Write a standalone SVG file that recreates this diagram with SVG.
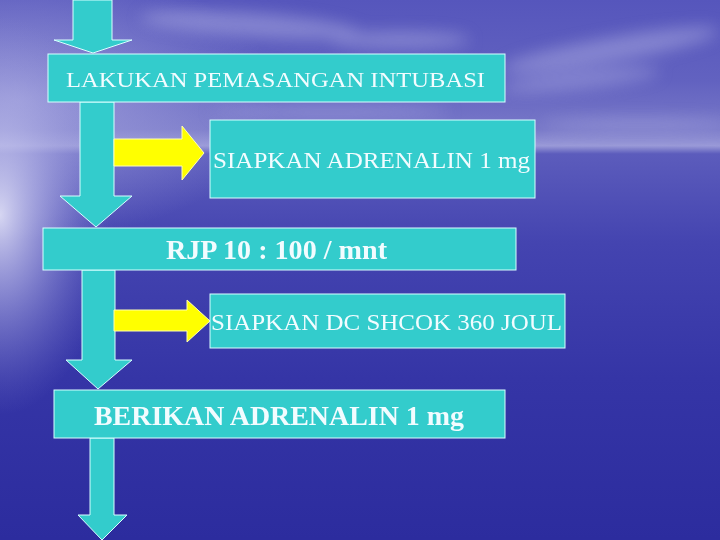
<svg xmlns="http://www.w3.org/2000/svg" width="720" height="540" viewBox="0 0 720 540">
  <defs>
    <linearGradient id="bg" x1="0" y1="0" x2="0" y2="1">
      <stop offset="0" stop-color="#5656bc"/>
      <stop offset="0.15" stop-color="#6262c0"/>
      <stop offset="0.24" stop-color="#7878c8"/>
      <stop offset="0.27" stop-color="#9a9ad8"/>
      <stop offset="0.285" stop-color="#5c5cbc"/>
      <stop offset="0.45" stop-color="#4444b0"/>
      <stop offset="0.7" stop-color="#3535a6"/>
      <stop offset="1" stop-color="#2c2c9e"/>
    </linearGradient>
    <radialGradient id="glare" gradientUnits="userSpaceOnUse" cx="0" cy="0" r="1" gradientTransform="translate(0,215) scale(110,200)">
      <stop offset="0" stop-color="#e4e4f8" stop-opacity="0.9"/>
      <stop offset="0.4" stop-color="#c0c0ec" stop-opacity="0.55"/>
      <stop offset="1" stop-color="#8888d4" stop-opacity="0"/>
    </radialGradient>
    <radialGradient id="topleft" gradientUnits="userSpaceOnUse" cx="0" cy="0" r="1" gradientTransform="translate(20,100) scale(260,140)">
      <stop offset="0" stop-color="#a8a8e0" stop-opacity="0.75"/>
      <stop offset="1" stop-color="#a8a8e0" stop-opacity="0"/>
    </radialGradient>
    <filter id="blur" x="-30%" y="-100%" width="160%" height="300%">
      <feGaussianBlur stdDeviation="8"/>
    </filter>
    <style>
      .box { fill: #33cccc; stroke: #d8ffff; stroke-width: 1; }
      .arr { fill: #33cccc; stroke: #d8ffff; stroke-width: 1; stroke-linejoin: miter; }
      .yel { fill: #ffff00; stroke: #ffffb0; stroke-width: 1; }
      .t { font-family: "Liberation Serif", "Times New Roman", serif; fill: #f2fcff; }
      .b { font-weight: bold; }
    </style>
  </defs>

  <!-- background -->
  <rect x="0" y="0" width="720" height="540" fill="url(#bg)"/>
  <rect x="0" y="0" width="720" height="540" fill="url(#topleft)"/>
  <rect x="0" y="0" width="720" height="540" fill="url(#glare)"/>
  <g filter="url(#blur)" fill="#a8a8e0" opacity="0.55">
    <ellipse cx="610" cy="50" rx="110" ry="12" transform="rotate(-10 610 50)"/>
    <ellipse cx="580" cy="80" rx="80" ry="8" transform="rotate(-6 580 80)"/>
    <ellipse cx="640" cy="125" rx="100" ry="6"/>
    <ellipse cx="250" cy="25" rx="110" ry="12" transform="rotate(4 250 25)"/>
    <ellipse cx="400" cy="40" rx="70" ry="8"/>
    <ellipse cx="330" cy="112" rx="120" ry="6"/>
  </g>

  <!-- connectors -->
  <g id="connectors">
    <polygon class="arr" points="73,0 112,0 112,40 132,40 93,53 54,40 73,40"/>
    <polygon class="arr" points="80,102 114,102 114,196 132,196 96,227 60,196 80,196"/>
    <polygon class="arr" points="82,270 115,270 115,360 132,360 98,389 66,360 82,360"/>
    <polygon class="arr" points="90,438 114,438 114,515 127,515 102,540 78,515 90,515"/>
    <polygon class="yel" points="114,139 182,139 182,126 204,153 182,180 182,166 114,166"/>
    <polygon class="yel" points="114,310 187,310 187,300 210,321 187,342 187,331 114,331"/>
  </g>

  <g id="node-intubasi">
    <rect class="box" x="48" y="54" width="457" height="48"/>
    <text class="t" x="66" y="87" font-size="22" textLength="419" lengthAdjust="spacingAndGlyphs">LAKUKAN PEMASANGAN INTUBASI</text>
  </g>
  <g id="node-adrenalin1">
    <rect class="box" x="210" y="120" width="325" height="78"/>
    <text class="t" x="213" y="168" font-size="24" textLength="317" lengthAdjust="spacingAndGlyphs">SIAPKAN ADRENALIN 1 mg</text>
  </g>
  <g id="node-rjp">
    <rect class="box" x="43" y="228" width="473" height="42"/>
    <text class="t b" x="166" y="259" font-size="27" textLength="221" lengthAdjust="spacingAndGlyphs">RJP 10 : 100 / mnt</text>
  </g>
  <g id="node-dcshock">
    <rect class="box" x="210" y="294" width="355" height="54"/>
    <text class="t" x="211" y="330" font-size="24" textLength="351" lengthAdjust="spacingAndGlyphs">SIAPKAN DC SHCOK 360 JOUL</text>
  </g>
  <g id="node-berikan">
    <rect class="box" x="54" y="390" width="451" height="48"/>
    <text class="t b" x="94" y="425" font-size="27" textLength="370" lengthAdjust="spacingAndGlyphs">BERIKAN ADRENALIN 1 mg</text>
  </g>
</svg>
